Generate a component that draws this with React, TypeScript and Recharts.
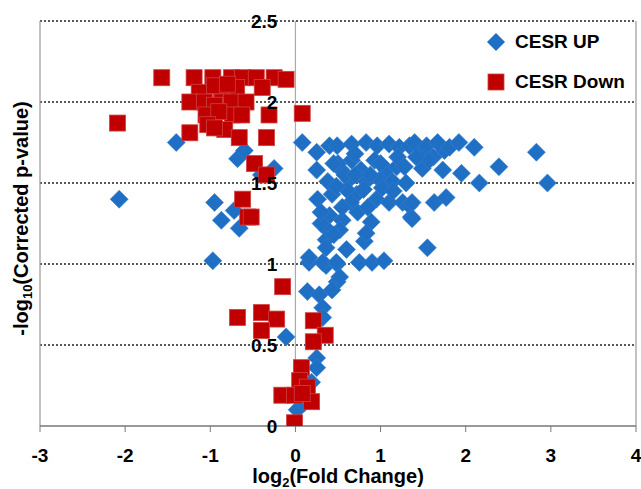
import { ScatterChart, Scatter, XAxis, YAxis, ReferenceLine, ReferenceDot } from 'recharts'

const xTicks = [-3, -2, -1, 0, 1, 2, 3, 4]
const yTicks = [0, 0.5, 1, 1.5, 2, 2.5]
const yTickLabels = ['0', '0.5', '1', '1.5', '2', '2.5']
const gridLines = [0.5, 1, 1.5, 2, 2.5]
const seriesNames = ['CESR UP', 'CESR Down']

// [log2 fold change, -log10 corrected p]
const upPoints: [number, number][] = [
  [-1.4, 1.75], [0.08, 1.75], [-0.68, 1.65], [-0.6, 1.7], [-0.25, 1.59], [-2.07, 1.4],
  [-0.95, 1.38], [-0.87, 1.27], [-0.66, 1.22], [-0.72, 1.33], [-0.4, 1.55], [-0.97, 1.02],
  [-0.11, 0.55], [0.14, 0.83], [0.28, 0.81], [0.32, 0.73], [0.32, 0.67], [0.49, 0.89],
  [0.43, 0.84], [0.36, 0.99], [0.49, 1.0], [0.16, 1.01], [0.25, 0.42], [0.25, 0.36],
  [0.19, 0.27], [0.02, 0.1], [0.1, 0.14],
  [0.25, 1.69], [0.4, 1.73], [0.49, 1.73], [0.66, 1.74], [0.83, 1.75], [0.96, 1.73],
  [1.1, 1.74], [1.22, 1.72], [1.34, 1.73], [0.25, 1.58], [0.54, 1.58], [0.66, 1.64],
  [0.77, 1.58], [0.93, 1.64], [1.07, 1.58], [1.19, 1.6], [0.63, 1.52], [0.83, 1.51],
  [0.99, 1.52], [1.14, 1.51], [0.38, 1.51], [0.72, 1.43], [0.26, 1.4], [0.43, 1.43],
  [0.95, 1.4], [1.1, 1.38], [1.26, 1.38], [1.34, 1.36], [1.36, 1.29], [0.4, 1.3],
  [0.55, 1.27], [0.73, 1.32], [0.38, 1.21], [0.52, 1.21], [0.89, 1.26], [0.36, 1.15],
  [0.81, 1.14], [0.83, 1.19], [0.36, 1.1], [0.6, 1.09], [0.16, 1.04], [0.32, 1.01],
  [0.48, 1.01], [0.75, 1.01], [0.9, 1.01], [1.04, 1.02], [0.52, 0.92],
  [0.6, 1.46], [0.5, 1.62], [0.8, 1.46], [1.0, 1.62], [1.2, 1.66], [0.7, 1.68],
  [0.45, 1.62], [0.58, 1.55], [0.7, 1.55], [0.88, 1.55], [1.02, 1.47], [1.15, 1.45],
  [0.65, 1.38], [0.85, 1.35], [0.55, 1.35], [0.3, 1.25], [0.45, 1.18], [0.3, 1.32],
  [0.48, 1.48], [1.28, 1.6], [1.3, 1.5], [1.5, 1.7], [1.62, 1.66], [1.75, 1.7],
  [1.4, 1.75], [1.54, 1.73], [1.67, 1.75], [1.81, 1.72], [1.92, 1.75], [2.1, 1.72],
  [2.83, 1.69], [2.39, 1.6], [1.49, 1.59], [1.73, 1.58], [1.95, 1.56], [2.16, 1.5],
  [2.96, 1.5], [1.37, 1.38], [1.63, 1.38], [1.77, 1.41], [1.37, 1.28], [1.55, 1.1],
  [1.57, 1.64], [1.42, 1.66],
]

const downPoints: [number, number][] = [
  [-1.57, 2.15], [-1.19, 2.15], [-0.97, 2.15], [-0.75, 2.15], [-0.62, 2.15], [-0.46, 2.15],
  [-0.25, 2.15], [-0.11, 2.14], [-1.13, 2.06], [-0.87, 2.06], [-0.69, 2.09], [-0.39, 2.09],
  [-0.95, 2.1], [-0.8, 2.11], [-1.24, 2.0], [-1.07, 2.0], [-0.86, 2.0], [-0.75, 2.0],
  [-0.58, 2.0], [-0.95, 1.98], [-1.05, 1.92], [-0.74, 1.92], [-0.63, 1.92], [-0.9, 1.94],
  [-0.31, 1.92], [0.08, 1.93], [-2.09, 1.87], [-1.03, 1.86], [-0.83, 1.83], [-1.24, 1.81],
  [-0.66, 1.78], [-0.34, 1.78], [-0.95, 1.84], [-0.48, 1.62], [-0.34, 1.55], [-0.62, 1.4],
  [-0.56, 1.29], [-0.52, 1.29],
  [-0.15, 0.86], [-0.68, 0.67], [-0.4, 0.7], [-0.22, 0.66], [-0.4, 0.59], [0.21, 0.65],
  [0.35, 0.56], [0.21, 0.52], [0.07, 0.36], [0.05, 0.28], [-0.16, 0.19], [-0.01, 0.19],
  [0.14, 0.24], [0.19, 0.15], [0.08, 0.2], [-0.01, 0.02],
]

const BLUE = '#1F6FC4'
const RED = '#C00000'
const FONT = '"Liberation Sans", Arial, sans-serif'

function Diamond(props: any) {
  const { cx, cy } = props
  const r = 9
  return (
    <polygon
      points={`${cx},${cy - r} ${cx + r},${cy} ${cx},${cy + r} ${cx - r},${cy}`}
      fill={BLUE}
      stroke="#3580d0"
      strokeWidth={0.6}
    />
  )
}

function Square(props: any) {
  const { cx, cy } = props
  const h = 8
  return <rect x={cx - h} y={cy - h} width={h * 2} height={h * 2} fill={RED} stroke="#d04040" strokeWidth={0.8} />
}

const subStyle = { fontSize: 13, verticalAlign: 'baseline', position: 'relative' as const, top: 4 }

export default function App() {
  const up = upPoints.map(([x, y]) => ({ x, y }))
  const down = downPoints.map(([x, y]) => ({ x, y }))

  return (
    <div style={{ position: 'absolute', left: 0, top: 0, width: 641, height: 489, background: '#fff', fontFamily: FONT, overflow: 'hidden' }}>
      <ScatterChart width={641} height={489} margin={{ top: 21, right: 5, left: 40, bottom: 0 }} style={{ fontFamily: FONT }}>
        <XAxis
          type="number"
          dataKey="x"
          domain={[-3, 4]}
          ticks={xTicks}
          allowDataOverflow
          height={63}
          tickSize={6}
          tickMargin={17}
          tick={{ fill: '#000', fontSize: 19, fontWeight: 'bold' }}
          tickLine={{ stroke: '#777' }}
          axisLine={{ stroke: '#777', strokeWidth: 1.5 }}
        />
        <YAxis type="number" dataKey="y" domain={[0, 2.5]} ticks={yTicks} allowDataOverflow hide />
        {gridLines.map((v) => (
          <ReferenceLine key={v} y={v} stroke="#222" strokeWidth={1.4} strokeDasharray="2 2" />
        ))}
        <ReferenceLine x={-3} stroke="#999" strokeWidth={1.2} />
        <ReferenceLine x={4} stroke="#999" strokeWidth={1.2} />
        <ReferenceLine x={0} stroke="#aaa" strokeWidth={1.2} />
        {yTicks.map((v, i) => (
          <ReferenceDot
            key={'t' + v}
            x={0}
            y={v}
            r={0}
            fill="none"
            stroke="none"
            label={{ value: yTickLabels[i], position: 'left', offset: 18, fill: '#000', fontSize: 19, fontWeight: 'bold' }}
          />
        ))}
        <Scatter name={seriesNames[0]} data={up} shape={Diamond} isAnimationActive={false} />
        <Scatter name={seriesNames[1]} data={down} shape={Square} isAnimationActive={false} />
      </ScatterChart>

      {/* axis titles */}
      <div style={{ position: 'absolute', left: 40, width: 596, top: 466, lineHeight: '20px', textAlign: 'center', fontSize: 20, fontWeight: 'bold' }}>
        log<sub style={subStyle}>2</sub>(Fold Change)
      </div>
      <div
        style={{
          position: 'absolute', left: 22, top: 217, width: 320, marginLeft: -160, marginTop: -10, lineHeight: '20px',
          textAlign: 'center', fontSize: 20, fontWeight: 'bold', transform: 'rotate(-90deg)', whiteSpace: 'nowrap',
        }}
      >
        -log<sub style={subStyle}>10</sub>(Corrected p-value)
      </div>

      {/* legend */}
      <div style={{ position: 'absolute', left: 486, top: 30, fontSize: 19, fontWeight: 'bold' }}>
        {seriesNames.map((name, i) => (
          <div key={name} style={{ display: 'flex', alignItems: 'center', height: 24, marginBottom: 16 }}>
            <svg width={20} height={20} style={{ marginRight: 9 }}>
              {i === 0 ? (
                <polygon points="10,1 19,10 10,19 1,10" fill={BLUE} />
              ) : (
                <rect x={2} y={2} width={16} height={16} fill={RED} stroke="#d04040" strokeWidth={0.8} />
              )}
            </svg>
            <span>{name}</span>
          </div>
        ))}
      </div>
    </div>
  )
}
